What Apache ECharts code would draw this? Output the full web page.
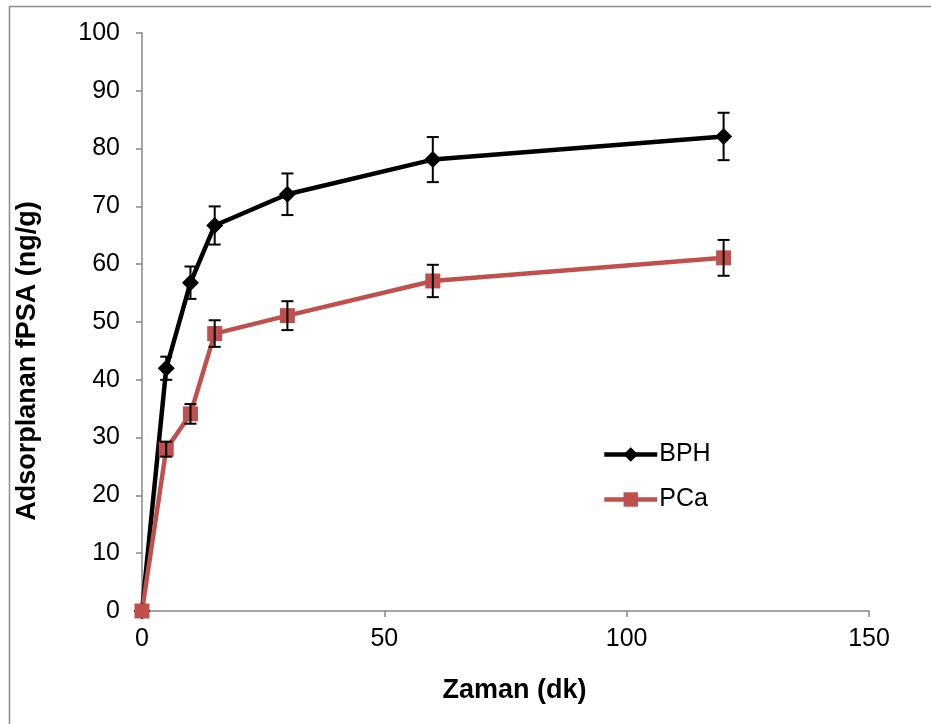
<!DOCTYPE html>
<html><head><meta charset="utf-8">
<script src="https://cdn.jsdelivr.net/npm/echarts@6/dist/echarts.min.js"></script>
<style>html,body{margin:0;padding:0;background:#fff}#c{width:931px;height:724px}</style>
</head><body><div id="c"></div>
<script>
const times = [0, 5, 10, 15, 30, 60, 120];
const bphValues = [0, 42, 56.8, 66.7, 72.1, 78.1, 82.1];
const bphErrors = [0, 2.0, 2.8, 3.3, 3.6, 3.9, 4.1];
const pcaValues = [0, 28, 34.1, 48, 51.1, 57.1, 61.1];
const pcaErrors = [0, 1.3, 1.7, 2.3, 2.5, 2.8, 3.1];
const xTicks = [0, 50, 100, 150];
const yTicks = [0, 10, 20, 30, 40, 50, 60, 70, 80, 90, 100];

const pairs = (v) => times.map((t, i) => [t, v[i]]);
const errData = (v, e) => times.map((t, i) => [t, v[i] - e[i], v[i] + e[i]]).filter((d, i) => e[i] > 0);

function errRender(params, api) {
  const x = api.value(0);
  const lo = api.coord([x, api.value(1)]);
  const hi = api.coord([x, api.value(2)]);
  const hw = 6;
  const st = { stroke: '#000', lineWidth: 2 };
  return { type: 'group', children: [
    { type: 'line', shape: { x1: lo[0], y1: lo[1], x2: hi[0], y2: hi[1] }, style: st },
    { type: 'line', shape: { x1: lo[0] - hw, y1: lo[1], x2: lo[0] + hw, y2: lo[1] }, style: st },
    { type: 'line', shape: { x1: hi[0] - hw, y1: hi[1], x2: hi[0] + hw, y2: hi[1] }, style: st }
  ]};
}

const FONT = 'Liberation Sans, Arial, sans-serif';
const chart = echarts.init(document.getElementById('c'), null, { renderer: 'canvas' });
chart.setOption({
  animation: false,
  textStyle: { fontFamily: FONT },
  graphic: [{ type: 'rect', left: 7, top: 4, shape: { width: 1000, height: 1000 }, style: { fill: 'none', stroke: '#8c8c8c', lineWidth: 1.5 }, silent: true, z: -1 }],
  grid: { left: 142, top: 33, right: 62, bottom: 113 },
  legend: {
    orient: 'vertical', left: 597, top: 437, itemGap: 20, itemWidth: 53, itemHeight: 18,
    lineStyle: { width: 4.5 },
    textStyle: { fontSize: 25, color: '#000', fontFamily: FONT, padding: [0, 0, 0, -3] },
    data: ['BPH', 'PCa']
  },
  xAxis: {
    type: 'value', min: 0, max: 150, interval: 50,
    name: 'Zaman (dk)', nameLocation: 'middle', nameGap: 66,
    nameTextStyle: { fontSize: 27, fontWeight: 'bold', color: '#000', padding: [0, 0, 0, 18] },
    axisLine: { lineStyle: { color: '#868686', width: 1.5 } },
    axisTick: { show: true, length: 6, lineStyle: { color: '#868686', width: 1.5 } },
    axisLabel: { fontSize: 25, color: '#000', margin: 16, formatter: v => xTicks.includes(v) ? String(v) : '' },
    splitLine: { show: false }
  },
  yAxis: {
    type: 'value', min: 0, max: 100, interval: 10,
    name: 'Adsorplanan fPSA (ng/g)', nameLocation: 'middle', nameGap: 101,
    nameTextStyle: { fontSize: 27, fontWeight: 'bold', color: '#000', padding: [0, 78, 0, 0] },
    axisLine: { show: true, lineStyle: { color: '#868686', width: 1.5 } },
    axisTick: { show: true, length: 6, lineStyle: { color: '#868686', width: 1.5 } },
    axisLabel: { fontSize: 25, color: '#000', margin: 22, formatter: v => yTicks.includes(v) ? String(v) : '' },
    splitLine: { show: false }
  },
  series: [
    { name: 'BPH', type: 'line', data: pairs(bphValues), symbol: 'diamond', symbolSize: 17,
      lineStyle: { color: '#000', width: 4.5 }, itemStyle: { color: '#000' }, z: 3 },
    { name: 'PCa', type: 'line', data: pairs(pcaValues), symbol: 'rect', symbolSize: 15,
      lineStyle: { color: '#C0504D', width: 4.5 }, itemStyle: { color: '#C0504D' }, z: 3 },
    { type: 'custom', renderItem: errRender, data: errData(bphValues, bphErrors), z: 4, encode: { x: 0, y: [1, 2] } },
    { type: 'custom', renderItem: errRender, data: errData(pcaValues, pcaErrors), z: 4, encode: { x: 0, y: [1, 2] } }
  ]
});
</script></body></html>
